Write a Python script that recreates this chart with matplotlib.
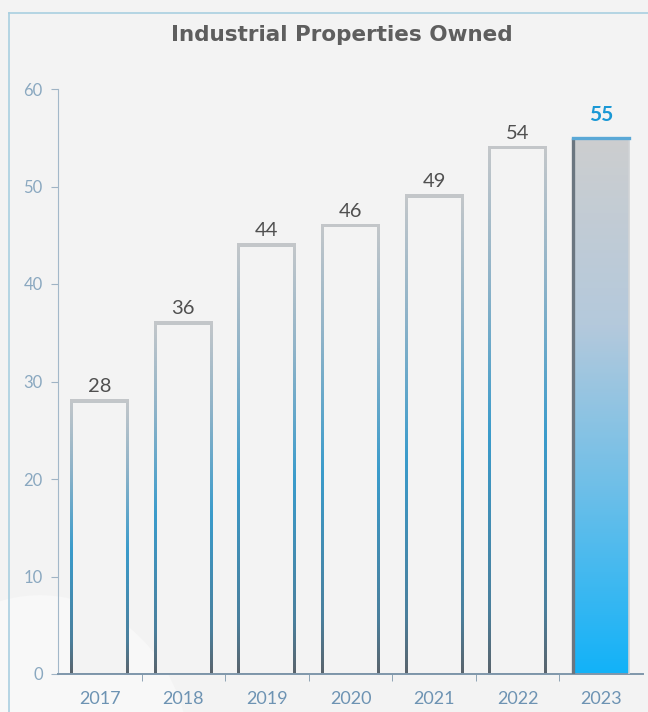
import numpy as np
import matplotlib
matplotlib.use("Agg")
import matplotlib.pyplot as plt
from matplotlib.colors import LinearSegmentedColormap
from matplotlib.patches import Circle, Rectangle

years = ["2017", "2018", "2019", "2020", "2021", "2022", "2023"]
owned = [28, 36, 44, 46, 49, 54, 55]
yticks = [0, 10, 20, 30, 40, 50, 60]

plt.rcParams['font.family'] = ['Lato', 'DejaVu Sans']

edge_cmap = LinearSegmentedColormap.from_list(
    "edge", [(0.0, "#5a636b"), (0.12, "#4a7f9c"), (0.45, "#3a9bcb"), (0.75, "#8fb3c8"), (1.0, "#c4c7ca")])
fill_cmap = LinearSegmentedColormap.from_list(
    "fill", [(0.0, "#12b2f8"), (0.35, "#6fbfe8"), (0.65, "#b4c9dc"), (1.0, "#cdcecf")])
bg = "#f3f3f3"

fig = plt.figure(figsize=(6.48, 7.12), dpi=100, facecolor=bg)

# faint backdrop circle bottom-left and frame lines
circ = Circle((40/648, 1 - 760/712), 150/648, transform=fig.transFigure,
              facecolor="#f8f8f8", edgecolor="none", zorder=-1)
fig.add_artist(circ)
fig.add_artist(plt.Line2D([9/648, 9/648], [0, 1 - 13/712], transform=fig.transFigure,
                          color="#a9cfe0", lw=1.2))
fig.add_artist(plt.Line2D([9/648, 1], [1 - 13/712, 1 - 13/712], transform=fig.transFigure,
                          color="#a9cfe0", lw=1.2))

fig.text(342/648, 1 - 35/712, "Industrial Properties Owned", ha="center", va="center",
         fontsize=15.5, fontweight="bold", color="#5e5e5e", family="DejaVu Sans")

ax = fig.add_axes([58/648, 1 - 674/712, 585/648, 585/712])
ax.set_facecolor("none")
ax.set_xlim(-0.5, len(owned) - 0.5)
ax.set_ylim(0, 60)

# stroke half-width in data units (about 1.5 px)
dx = 1.5 / 83.6
dy = 1.5 / 9.75
w = 0.67
for i, v in enumerate(owned):
    x0, x1 = i - w/2, i + w/2
    last = i == len(owned) - 1
    if last:
        grad = np.linspace(1, 0, 256).reshape(-1, 1)
        ax.imshow(grad, extent=[x0, x1, 0, v], aspect="auto", cmap=fill_cmap,
                  vmin=0, vmax=1, zorder=2, interpolation="bicubic")
        ax.plot([x0, x0], [0, v], color="#6b7680", lw=2.4, zorder=3, solid_capstyle="butt")
        ax.plot([x1, x1], [0, v], color="#d0d3d6", lw=1.2, zorder=3)
        ax.plot([x0, x1], [v, v], color="#5aa8d6", lw=2.4, zorder=3)
        ax.text(i, v + 1.3, str(v), ha="center", va="bottom", fontsize=15,
                fontweight="bold", color="#1a98d5")
        continue
    grad = np.linspace(1, 0, 256).reshape(-1, 1)
    ax.imshow(grad, extent=[x0 - dx, x1 + dx, 0, v + dy], aspect="auto", cmap=edge_cmap,
              vmin=0, vmax=1, zorder=2, interpolation="bicubic")
    ax.add_patch(Rectangle((x0 + dx, dy), w - 2*dx, v - 2*dy, facecolor=bg,
                           edgecolor="none", zorder=2.5))
    ax.text(i, v + 0.6, str(v), ha="center", va="bottom", fontsize=14.5, color="#505050")

ax.set_xlim(-0.5, len(owned) - 0.5)
ax.set_ylim(0, 60)
ax.set_yticks(yticks)
ax.set_xticks(range(len(years)))
ax.set_xticklabels(years)
ax.set_xticks(np.arange(0.5, len(years) - 0.5, 1), minor=True)
ax.tick_params(axis="x", which="major", length=0, pad=12, labelsize=13, labelcolor="#6d93b3")
ax.tick_params(axis="x", which="minor", length=5, direction="out", color="#7f97ab")
ax.tick_params(axis="y", length=5, direction="out", color="#9fb3c4", labelsize=12,
               labelcolor="#8aa8c0", pad=6)
for s in ("top", "right"):
    ax.spines[s].set_visible(False)
ax.spines["left"].set_color("#a3b8c9")
ax.spines["bottom"].set_color("#7f97ab")
ax.spines["bottom"].set_linewidth(1.4)

fig.savefig("out.png", dpi=100, facecolor=fig.get_facecolor())
